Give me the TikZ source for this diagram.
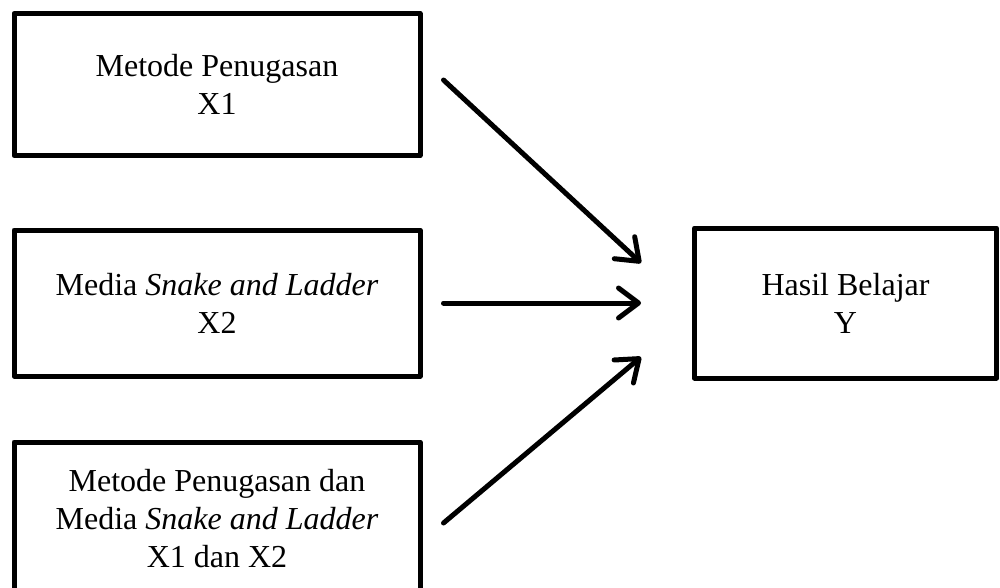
\documentclass[tikz,border=0pt]{standalone}
\usepackage{fontspec}
\setmainfont{Liberation Serif}
\usetikzlibrary{arrows.meta}
\begin{document}
\begin{tikzpicture}[x=1pt,y=-1pt,font=\fontsize{32}{38}\selectfont, line join=round, line cap=round,
	box/.style={draw,line width=5pt,minimum width=406pt,align=center,inner sep=0pt},
	arr/.style={line width=5pt,-{Straight Barb[length=20pt,width=30pt,round]}}]
	%	\draw[color=gray!50,dashed] (0,0) grid[step=50] (1000,587);
	\useasboundingbox (0,0) rectangle (1000,587);
	\node[box,minimum height=142pt] (x1) at (217,84.5) {Metode Penugasan\\X1};
	\node[box,minimum height=146pt] (x2) at (217,303) {Media \textit{Snake and Ladder}\\X2};
	\node[box,minimum height=154pt] (x3) at (217,519) {Metode Penugasan dan\\Media \textit{Snake and Ladder}\\X1 dan X2};
	\node[box,minimum width=302pt,minimum height=150pt] (y) at (845.5,303) {Hasil Belajar\\Y};
	\draw[arr] ([xshift=21pt,yshift=4.5pt]x1.east) -- ([xshift=-51pt,yshift=40pt]y.west);
	\draw[arr] ([xshift=21pt]x2.east) -- ([xshift=-51pt]y.west);
	\draw[arr] ([xshift=21pt,yshift=-4pt]x3.east) -- ([xshift=-51pt,yshift=-54pt]y.west);
\end{tikzpicture}
\end{document}
